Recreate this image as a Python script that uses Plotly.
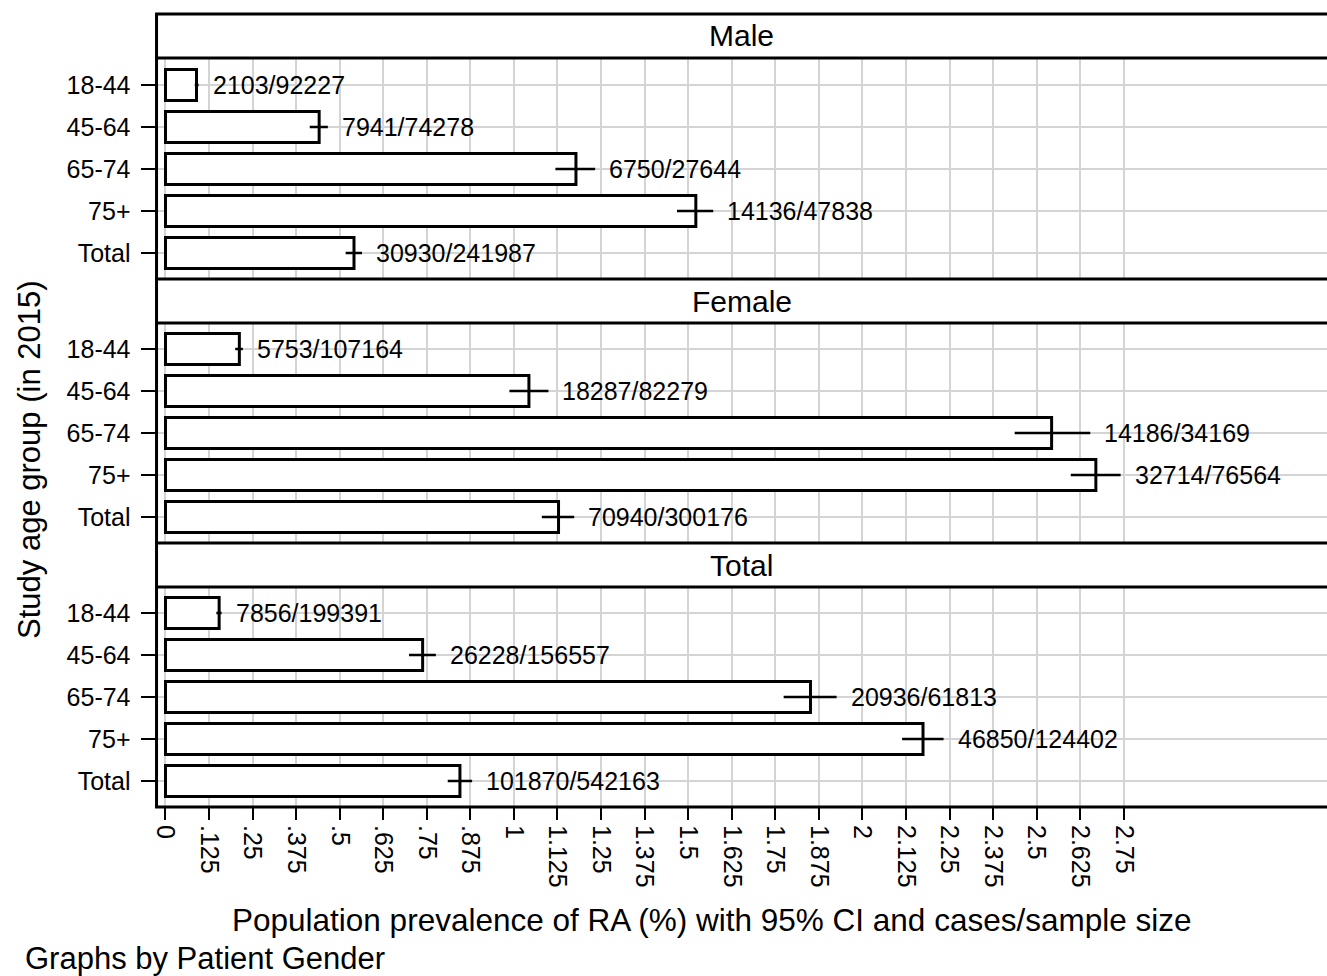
import plotly.graph_objects as go

# ---- data -------------------------------------------------------------
groups = ["18-44", "45-64", "65-74", "75+", "Total"]
panels = ["Male", "Female", "Total"]

prev_male = [0.089, 0.441, 1.178, 1.522, 0.541]
lo_male = [0.084, 0.414, 1.119, 1.468, 0.517]
hi_male = [0.095, 0.466, 1.233, 1.572, 0.564]
cases_male = [2103, 7941, 6750, 14136, 30930]
n_male = [92227, 74278, 27644, 47838, 241987]

prev_female = [0.212, 1.043, 2.543, 2.670, 1.128]
lo_female = [0.200, 0.987, 2.437, 2.598, 1.080]
hi_female = [0.222, 1.099, 2.654, 2.741, 1.173]
cases_female = [5753, 18287, 14186, 32714, 70940]
n_female = [107164, 82279, 34169, 76564, 300176]

prev_total = [0.154, 0.738, 1.851, 2.174, 0.845]
lo_total = [0.146, 0.699, 1.774, 2.114, 0.810]
hi_total = [0.161, 0.776, 1.926, 2.233, 0.880]
cases_total = [7856, 26228, 20936, 46850, 101870]
n_total = [199391, 156557, 61813, 124402, 542163]

tick_vals = [0, 0.125, 0.25, 0.375, 0.5, 0.625, 0.75, 0.875, 1, 1.125, 1.25,
             1.375, 1.5, 1.625, 1.75, 1.875, 2, 2.125, 2.25, 2.375, 2.5,
             2.625, 2.75]
tick_text = ["0", ".125", ".25", ".375", ".5", ".625", ".75", ".875", "1",
             "1.125", "1.25", "1.375", "1.5", "1.625", "1.75", "1.875", "2",
             "2.125", "2.25", "2.375", "2.5", "2.625", "2.75"]

# ---- page geometry (pixels) -------------------------------------------
W, H = 1327, 976
FONT = "Liberation Sans, Arial, sans-serif"
GRID = "#d4d4d4"


def px(x):
    return x / W


def py(y):
    return 1 - y / H


left_px = 153
strips = [(14, 58), (279, 323), (543, 587)]
plots = [(58, 279, 85), (323, 543, 349), (587, 807, 613)]
row_gap = 42.0
zero_px, unit_px = 162, 350.7
x_range = [(left_px - zero_px) / unit_px, (W + 4 - zero_px) / unit_px]

series = [
    (prev_male, lo_male, hi_male, cases_male, n_male),
    (prev_female, lo_female, hi_female, cases_female, n_female),
    (prev_total, lo_total, hi_total, cases_total, n_total),
]

fig = go.Figure()
layout = dict(
    width=W, height=H, autosize=False,
    margin=dict(l=0, r=0, t=0, b=0),
    paper_bgcolor="white", plot_bgcolor="white",
    showlegend=False,
    font=dict(family=FONT, color="black", size=25),
)
annotations = []
shapes = []

for i, (panel, (prev, lo, hi, cases, ns)) in enumerate(zip(panels, series)):
    sfx = "" if i == 0 else str(i + 1)
    top, bot, first_c = plots[i]
    fig.add_trace(go.Bar(
        y=groups, x=prev, orientation="h",
        xaxis="x" + sfx, yaxis="y" + sfx,
        width=0.74,
        marker=dict(color="white", line=dict(color="black", width=3)),
        error_x=dict(type="data", symmetric=False,
                     array=[h - v for h, v in zip(hi, prev)],
                     arrayminus=[v - l for v, l in zip(prev, lo)],
                     width=0, thickness=2.5, color="black"),
        hoverinfo="skip",
    ))
    y_rng = [(bot - first_c) / row_gap, (top - first_c) / row_gap]
    last = i == len(panels) - 1
    layout["xaxis" + sfx] = dict(
        domain=[px(left_px), 1], anchor="y" + sfx, range=x_range,
        tickmode="array", tickvals=tick_vals, ticktext=tick_text,
        showticklabels=last, ticks="outside" if last else "",
        ticklen=12, tickwidth=2, tickcolor="black", tickangle=90,
        tickfont=dict(size=25, family=FONT, color="black"),
        showgrid=True, gridcolor=GRID, gridwidth=2,
        zeroline=False, showline=False, fixedrange=True,
    )
    layout["yaxis" + sfx] = dict(
        domain=[py(bot), py(top)], anchor="x" + sfx,
        type="category", categoryorder="array", categoryarray=groups,
        range=y_rng,
        ticks="outside", ticklen=15, tickwidth=2, tickcolor="black",
        ticklabelstandoff=5,
        tickfont=dict(size=25, family=FONT, color="black"),
        showgrid=True, gridcolor=GRID, gridwidth=2,
        zeroline=False, showline=False, fixedrange=True,
    )
    # cases / sample size next to each confidence interval
    for g, h, c, n in zip(groups, hi, cases, ns):
        annotations.append(dict(
            x=h, y=g, xref="x" + sfx, yref="y" + sfx,
            text=f"{c}/{n}", showarrow=False,
            xanchor="left", yanchor="middle", xshift=12,
            font=dict(size=25, family=FONT, color="black"),
        ))
    # strip header with the panel title
    s_top, s_bot = strips[i]
    shapes.append(dict(type="rect", xref="paper", yref="paper",
                       x0=px(left_px), x1=1.02, y0=py(s_bot), y1=py(s_top),
                       fillcolor="white", line=dict(width=0), layer="below"))
    annotations.append(dict(
        x=(px(left_px) + 1) / 2, y=py((s_top + s_bot) / 2),
        xref="paper", yref="paper", text=panel, showarrow=False,
        xanchor="center", yanchor="middle",
        font=dict(size=30, family=FONT, color="black"),
    ))

# panel frame lines
for yline in [14, 58, 279, 323, 543, 587, 807]:
    shapes.append(dict(type="line", xref="paper", yref="paper",
                       x0=px(left_px - 1.5), x1=1.02, y0=py(yline), y1=py(yline),
                       line=dict(color="black", width=3), layer="above"))
shapes.append(dict(type="line", xref="paper", yref="paper",
                   x0=px(left_px), x1=px(left_px), y0=py(807), y1=py(14),
                   line=dict(color="black", width=3), layer="above"))

# titles and note
annotations.append(dict(
    x=px(710), y=py(920), xref="paper", yref="paper",
    text="Population prevalence of RA (%) with 95% CI and cases/sample size",
    showarrow=False, xanchor="center", yanchor="middle",
    font=dict(size=31.5, family=FONT, color="black"),
))
annotations.append(dict(
    x=px(25), y=py(460), xref="paper", yref="paper",
    text="Study age group (in 2015)", textangle=-90,
    showarrow=False, xanchor="center", yanchor="middle",
    font=dict(size=31, family=FONT, color="black"),
))
annotations.append(dict(
    x=px(19), y=py(958), xref="paper", yref="paper",
    text="Graphs by Patient Gender",
    showarrow=False, xanchor="left", yanchor="middle",
    font=dict(size=31, family=FONT, color="black"),
))

layout["annotations"] = annotations
layout["shapes"] = shapes
fig.update_layout(**layout)
fig.write_html("out.html", config={"displayModeBar": False})
